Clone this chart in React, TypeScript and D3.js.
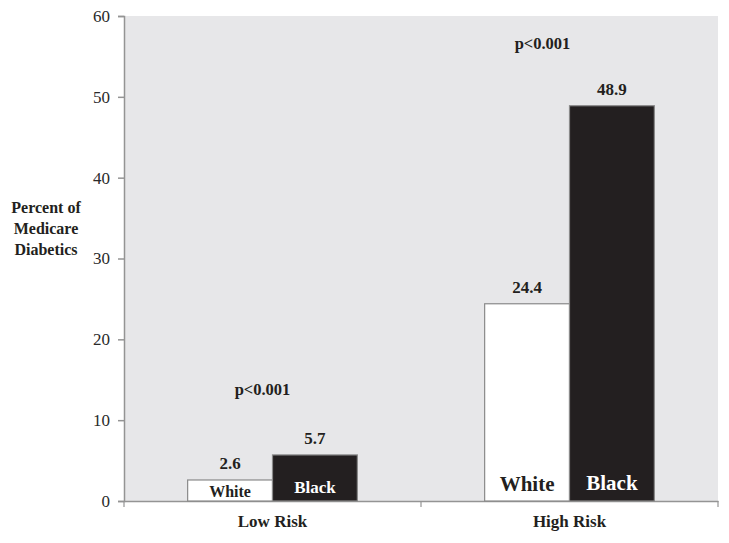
import React, { useEffect, useRef } from 'react';
import * as d3 from 'd3';

const categories = ['Low Risk', 'High Risk'];
const groups = ['White', 'Black'];
const whiteValues = [2.6, 24.4];
const blackValues = [5.7, 48.9];
const valueLabels = [['2.6', '24.4'], ['5.7', '48.9']];
const pLabels = ['p<0.001', 'p<0.001'];
const pLabelY = [13.1, 55.9];
const yTicks = [0, 10, 20, 30, 40, 50, 60];
const yTitle = ['Percent of', 'Medicare', 'Diabetics'];

const App = () => {
  const ref = useRef(null);

  useEffect(() => {
    d3.select(ref.current).selectAll('*').remove();

    const width = 729;
    const height = 543;
    const margin = { top: 16, right: 11, bottom: 42, left: 124 };
    const textColor = '#231f20';
    const font = 'Liberation Serif, Times New Roman, Times, serif';

    const svg = d3.select(ref.current)
      .attr('width', width)
      .attr('height', height)
      .attr('viewBox', `0 0 ${width} ${height}`)
      .attr('font-family', font);

    const x0 = d3.scaleBand()
      .domain(categories)
      .range([margin.left, width - margin.right])
      .padding(0);

    const x1 = d3.scaleBand()
      .domain(groups)
      .range([0, x0.bandwidth()])
      .paddingInner(0)
      .paddingOuter(0.75);

    const y = d3.scaleLinear()
      .domain([0, 60])
      .range([height - margin.bottom, margin.top]);

    // plot background
    svg.append('rect')
      .attr('x', margin.left)
      .attr('y', y(60))
      .attr('width', width - margin.right - margin.left)
      .attr('height', y(0) - y(60))
      .attr('fill', '#e7e7e9');

    // y axis
    const yAxis = svg.append('g')
      .attr('transform', `translate(${margin.left}, 0)`)
      .call(d3.axisLeft(y).tickValues(yTicks).tickSize(6).tickPadding(8))
      .attr('font-family', font);
    yAxis.select('.domain').attr('stroke', '#949494').attr('stroke-width', 1.5);
    yAxis.selectAll('.tick line').attr('stroke', '#949494').attr('stroke-width', 1.5);
    yAxis.selectAll('.tick text')
      .attr('font-size', 17)
      .attr('fill', '#2a2a2a');

    // x axis
    const xAxis = svg.append('g')
      .attr('transform', `translate(0, ${y(0)})`)
      .call(d3.axisBottom(x0).tickSize(0).tickPadding(14))
      .attr('font-family', font);
    xAxis.select('.domain').attr('stroke', '#949494').attr('stroke-width', 1.5);
    xAxis.selectAll('.tick text')
      .attr('font-size', 17)
      .attr('font-weight', 700)
      .attr('fill', textColor);

    // category separators on x axis
    svg.append('g').selectAll('line')
      .data(x0.range().concat([x0(categories[1])]))
      .enter()
      .append('line')
      .attr('x1', d => d)
      .attr('x2', d => d)
      .attr('y1', y(0))
      .attr('y2', y(0) + 6)
      .attr('stroke', '#949494')
      .attr('stroke-width', 1.2);

    // bars
    const series = [
      { name: groups[0], values: whiteValues, fill: '#ffffff', labelFill: textColor },
      { name: groups[1], values: blackValues, fill: '#231f20', labelFill: '#ffffff' }
    ];
    const innerFont = [[16, 21], [17, 21]];
    const innerLift = [[4, 10], [8, 11]];

    series.forEach((s, si) => {
      const g = svg.append('g');
      g.selectAll('rect')
        .data(s.values).enter()
        .append('rect')
        .attr('x', (d, i) => x0(categories[i]) + x1(s.name))
        .attr('y', d => y(d))
        .attr('width', x1.bandwidth())
        .attr('height', d => y(0) - y(d))
        .attr('fill', s.fill)
        .attr('stroke', '#8a8a8a')
        .attr('stroke-width', 1.2);

      // value labels
      g.selectAll('text.value')
        .data(s.values).enter()
        .append('text')
        .attr('class', 'value')
        .attr('x', (d, i) => x0(categories[i]) + x1(s.name) + x1.bandwidth() / 2)
        .attr('y', d => y(d) - 11)
        .attr('text-anchor', 'middle')
        .attr('font-size', 17)
        .attr('font-weight', 700)
        .attr('fill', textColor)
        .text((d, i) => valueLabels[si][i]);

      // group names inside bars
      g.selectAll('text.name')
        .data(s.values).enter()
        .append('text')
        .attr('class', 'name')
        .attr('x', (d, i) => x0(categories[i]) + x1(s.name) + x1.bandwidth() / 2)
        .attr('y', (d, i) => y(0) - innerLift[si][i])
        .attr('text-anchor', 'middle')
        .attr('font-size', (d, i) => innerFont[si][i])
        .attr('font-weight', 700)
        .attr('fill', s.labelFill)
        .text(s.name);
    });

    // p-value annotations
    const pOffset = [-10, -27];
    svg.append('g').selectAll('text')
      .data(pLabels).enter()
      .append('text')
      .attr('x', (d, i) => x0(categories[i]) + x0.bandwidth() / 2 + pOffset[i])
      .attr('y', (d, i) => y(pLabelY[i]))
      .attr('text-anchor', 'middle')
      .attr('font-size', 16.5)
      .attr('font-weight', 700)
      .attr('fill', textColor)
      .text(d => d);

    // y axis title
    svg.append('text')
      .attr('x', 46)
      .attr('y', 213)
      .attr('text-anchor', 'middle')
      .attr('font-size', 16)
      .attr('font-weight', 700)
      .attr('fill', textColor)
      .selectAll('tspan')
      .data(yTitle).enter()
      .append('tspan')
      .attr('x', 46)
      .attr('dy', (d, i) => (i === 0 ? 0 : 21))
      .text(d => d);
  }, []);

  return (
    <div style={{ position: 'absolute', left: 0, top: 0 }}>
      <svg ref={ref}></svg>
    </div>
  );
};

export default App;
